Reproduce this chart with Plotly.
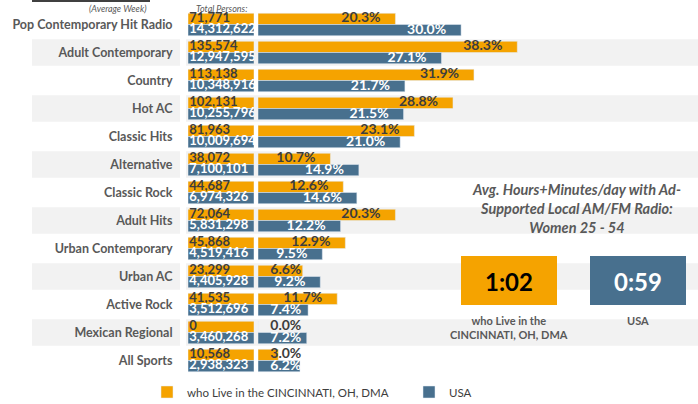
import plotly.graph_objects as go

# ---------------- data ----------------
categories = ["Pop Contemporary Hit Radio", "Adult Contemporary", "Country", "Hot AC",
              "Classic Hits", "Alternative", "Classic Rock", "Adult Hits",
              "Urban Contemporary", "Urban AC", "Active Rock", "Mexican Regional", "All Sports"]
cin_persons = [71771, 135574, 113138, 102131, 81963, 38072, 44687, 72064, 45868, 23299, 41535, 0, 10568]
usa_persons = [14312622, 12947595, 10348916, 10255796, 10009694, 7100101, 6974326, 5831298,
               4519416, 4405928, 3512696, 3460268, 2938323]
cin_pct = [20.3, 38.3, 31.9, 28.8, 23.1, 10.7, 12.6, 20.3, 12.9, 6.6, 11.7, 0.0, 3.0]
usa_pct = [30.0, 27.1, 21.7, 21.5, 21.0, 14.9, 14.6, 12.2, 9.5, 9.2, 7.4, 7.2, 6.2]
series_names = ["who Live in the CINCINNATI, OH, DMA", "USA"]
time_values = ["1:02", "0:59"]
time_labels = ["who Live in the<br>CINCINNATI, OH, DMA", "USA"]
panel_title = "Avg. Hours+Minutes/day with Ad-<br>Supported Local AM/FM Radio:<br>Women 25 - 54"

ORANGE = "#F5A300"
BLUE = "#48708E"
DARK = "#3d3d3d"
GRAY = "#595959"
FONT = "Lato"
W, H = 698, 404

idx = list(range(len(categories)))
y_top = [i - 0.2 for i in idx]
y_bot = [i + 0.2 for i in idx]

fig = go.Figure()

# total persons boxes (x axis 1)
fig.add_trace(go.Bar(y=idx, x=[1] * len(idx), orientation="h", marker_color=ORANGE,
                     xaxis="x", yaxis="y", showlegend=False, hoverinfo="skip",
                     offsetgroup="a"))
fig.add_trace(go.Bar(y=idx, x=[1] * len(idx), orientation="h", marker_color=BLUE,
                     xaxis="x", yaxis="y", showlegend=False, hoverinfo="skip",
                     offsetgroup="b"))
fig.add_trace(go.Scatter(x=[0.02] * len(idx), y=y_top, mode="text",
                         text=[f"{v:,}" for v in cin_persons], textposition="middle right",
                         textfont=dict(family=FONT, size=13, color=DARK, weight="bold"),
                         xaxis="x", yaxis="y", showlegend=False, cliponaxis=True,
                         hoverinfo="skip"))
fig.add_trace(go.Scatter(x=[0.02] * len(idx), y=y_bot, mode="text",
                         text=[f"{v:,}" for v in usa_persons], textposition="middle right",
                         textfont=dict(family=FONT, size=13, color="white", weight="bold"),
                         xaxis="x", yaxis="y", showlegend=False, cliponaxis=True,
                         hoverinfo="skip"))

# percent bars (x axis 2)
fig.add_trace(go.Bar(y=idx, x=cin_pct, orientation="h", marker_color=ORANGE,
                     name=series_names[0], xaxis="x2", yaxis="y", offsetgroup="a"))
fig.add_trace(go.Bar(y=idx, x=usa_pct, orientation="h", marker_color=BLUE,
                     name=series_names[1], xaxis="x2", yaxis="y", offsetgroup="b"))

def lab_x(vals):
    return [max(v - 2.2, 6.4) for v in vals]

fig.add_trace(go.Scatter(x=lab_x(cin_pct), y=y_top, mode="text",
                         text=[f"{v:.1f}%" for v in cin_pct], textposition="middle left",
                         textfont=dict(family=FONT, size=14, color=DARK, weight="bold"),
                         xaxis="x2", yaxis="y", showlegend=False, cliponaxis=False,
                         hoverinfo="skip"))
fig.add_trace(go.Scatter(x=lab_x(usa_pct), y=y_bot, mode="text",
                         text=[f"{v:.1f}%" for v in usa_pct], textposition="middle left",
                         textfont=dict(family=FONT, size=14, color="white", weight="bold"),
                         xaxis="x2", yaxis="y", showlegend=False, cliponaxis=False,
                         hoverinfo="skip"))

shapes = []
# alternating row stripes
for i in idx:
    if i % 2 == 1:
        for x0, x1 in [(32, 180), (186, W)]:
            shapes.append(dict(type="rect", xref="paper", yref="y", x0=x0 / W, x1=x1 / W,
                               y0=i - 0.47, y1=i + 0.47, fillcolor="#f2f2f2",
                               line_width=0, layer="below"))
# top header border fragment
shapes.append(dict(type="line", xref="paper", yref="paper", x0=32 / W, x1=150 / W,
                   y0=1 - 1 / H, y1=1 - 1 / H, line=dict(color="#404040", width=2)))
# time boxes
box_colors = [ORANGE, BLUE]
box_cx = [509, 638]
for c, cx in zip(box_colors, box_cx):
    shapes.append(dict(type="rect", xref="paper", yref="paper",
                       x0=(cx - 48) / W, x1=(cx + 48) / W,
                       y0=1 - 305 / H, y1=1 - 256 / H, fillcolor=c, line_width=0))

annotations = [
    dict(text="(Average Week)", x=148 / W, y=1 - 8 / H, xref="paper", yref="paper",
         xanchor="right", yanchor="middle", showarrow=False,
         font=dict(family=FONT, size=9, color=GRAY, style="italic")),
    dict(text="Total Persons:", x=194 / W, y=1 - 8 / H, xref="paper", yref="paper",
         xanchor="left", yanchor="middle", showarrow=False,
         font=dict(family=FONT, size=9, color=GRAY, style="italic")),
    dict(text=panel_title, x=576 / W, y=1 - 208 / H, xref="paper", yref="paper",
         xanchor="center", yanchor="middle", showarrow=False, align="center",
         font=dict(family=FONT, size=14.5, color=GRAY, style="italic", weight="bold")),
]
tcolors = ["black", "white"]
for tv, tl, cx, tc in zip(time_values, time_labels, box_cx, tcolors):
    annotations.append(dict(text=tv, x=cx / W, y=1 - 281 / H, xref="paper", yref="paper",
                            xanchor="center", yanchor="middle", showarrow=False,
                            font=dict(family=FONT, size=24, color=tc, weight="bold")))
    annotations.append(dict(text=tl, x=cx / W, y=1 - 312 / H, xref="paper", yref="paper",
                            xanchor="center", yanchor="top", showarrow=False, align="center",
                            font=dict(family=FONT, size=11, color=GRAY, weight="bold")))

fig.update_layout(
    width=W, height=H,
    margin=dict(l=0, r=0, t=0, b=0, autoexpand=False),
    paper_bgcolor="white", plot_bgcolor="rgba(0,0,0,0)",
    barmode="group", bargap=0.2, bargroupgap=0,
    font=dict(family=FONT, color=GRAY),
    xaxis=dict(domain=[188 / W, 254 / W], range=[0, 1], visible=False, anchor="y",
               fixedrange=True),
    xaxis2=dict(domain=[258 / W, (258 + 50 * 6.77) / W], range=[0, 50], visible=False,
                anchor="y", fixedrange=True),
    yaxis=dict(domain=[1 - 374.5 / H, 1 - 10.5 / H], range=[12.5, -0.5], anchor="x",
               tickmode="array", tickvals=idx, ticktext=categories,
               ticks="outside", ticklen=12, tickcolor="rgba(0,0,0,0)",
               showgrid=False, zeroline=False, showline=False, fixedrange=True,
               tickfont=dict(family=FONT, size=12.5, color=GRAY, weight="bold")),
    legend=dict(orientation="h", x=147 / W, y=1 - 392 / H, xanchor="left", yanchor="middle",
                font=dict(family=FONT, size=11.5, color=DARK), entrywidth=217,
                bgcolor="rgba(0,0,0,0)", itemclick=False, itemdoubleclick=False),
    shapes=shapes, annotations=annotations,
)

fig.write_html("out.html", config={"displayModeBar": False},
               post_script="document.body.style.margin='0';")
